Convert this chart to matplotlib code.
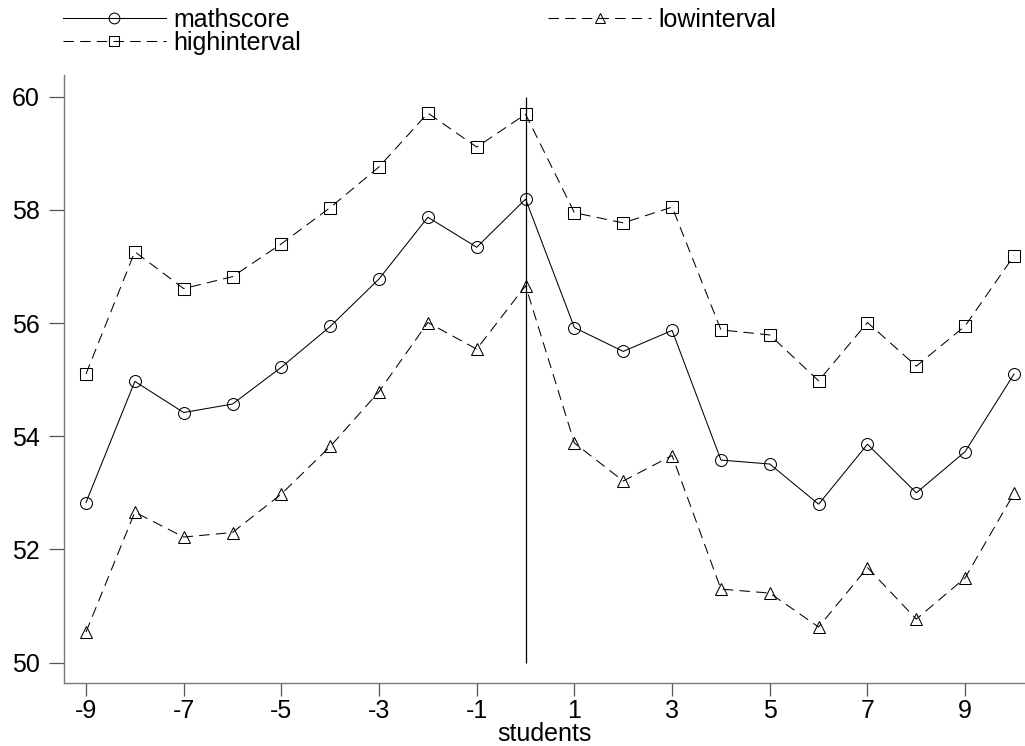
import matplotlib
matplotlib.use("Agg")
import matplotlib.pyplot as plt

plt.rcParams['font.family'] = ['Liberation Sans', 'DejaVu Sans']
plt.rcParams['lines.scale_dashes'] = False

students = list(range(-9, 11))
mathscore = [52.83, 54.97, 54.42, 54.57, 55.22, 55.94, 56.78, 57.87, 57.34, 58.19,
             55.92, 55.50, 55.87, 53.58, 53.51, 52.80, 53.86, 53.00, 53.73, 55.10]
lowinterval = [50.54, 52.66, 52.22, 52.30, 52.98, 53.82, 54.79, 56.01, 55.54, 56.66,
               53.88, 53.21, 53.66, 51.30, 51.23, 50.63, 51.68, 50.77, 51.50, 52.99]
highinterval = [55.10, 57.26, 56.61, 56.82, 57.40, 58.04, 58.76, 59.71, 59.11, 59.69,
                57.95, 57.77, 58.05, 55.88, 55.79, 54.98, 56.01, 55.24, 55.95, 57.19]
xticks = [-9, -7, -5, -3, -1, 1, 3, 5, 7, 9]
yticks = [50, 52, 54, 56, 58, 60]
vline_x = 0
vline_span = (50, 60)

fig = plt.figure(figsize=(10.25, 7.46), dpi=100)
ax = fig.add_axes([64 / 1025, 1 - 683.3 / 746, 1 - 64 / 1025, (683.3 - 75) / 746])

ms = 8.6
mew = 0.75
lw = 0.75
dash = (7.5, 4.5)

l1, = ax.plot(students, mathscore, color='black', lw=lw, marker='o', ms=ms,
              mfc='none', mec='black', mew=mew, label='mathscore')
l2, = ax.plot(students, lowinterval, color='black', lw=lw, marker='^', ms=ms,
              mfc='none', mec='black', mew=mew, dashes=dash, label='lowinterval')
l3, = ax.plot(students, highinterval, color='black', lw=lw, marker='s', ms=ms * 0.95,
              mfc='none', mec='black', mew=mew, dashes=dash, label='highinterval')
ax.vlines(vline_x, vline_span[0], vline_span[1], color='black', lw=0.9)

ax.set_xlim(-9.45, 10.225)
ax.set_ylim(49.636, 60.383)
ax.set_xticks(xticks)
ax.set_xticklabels([str(t) for t in xticks])
ax.set_yticks(yticks)
ax.set_yticklabels([str(t) for t in yticks])

for s in ['top', 'right']:
    ax.spines[s].set_visible(False)
for s in ['left', 'bottom']:
    ax.spines[s].set_color('#777777')
    ax.spines[s].set_linewidth(1.0)
ax.tick_params(axis='both', colors='#555555', labelcolor='black', labelsize=18,
               length=10.5, width=0.9)
ax.tick_params(axis='x', pad=2, length=9.5)
ax.tick_params(axis='y', pad=7)

ax.set_xlabel('students', fontsize=18, labelpad=-1)

leg = fig.legend(handles=[l1, l3, l2], ncol=2, loc='upper left',
                 bbox_to_anchor=(63 / 1025, 1 - 8 / 746), frameon=False,
                 fontsize=18, handlelength=4.1, handletextpad=0.3,
                 columnspacing=9.9, labelspacing=-0.05, borderpad=0,
                 borderaxespad=0, markerscale=0.9)

fig.savefig('out.png', dpi=100)
